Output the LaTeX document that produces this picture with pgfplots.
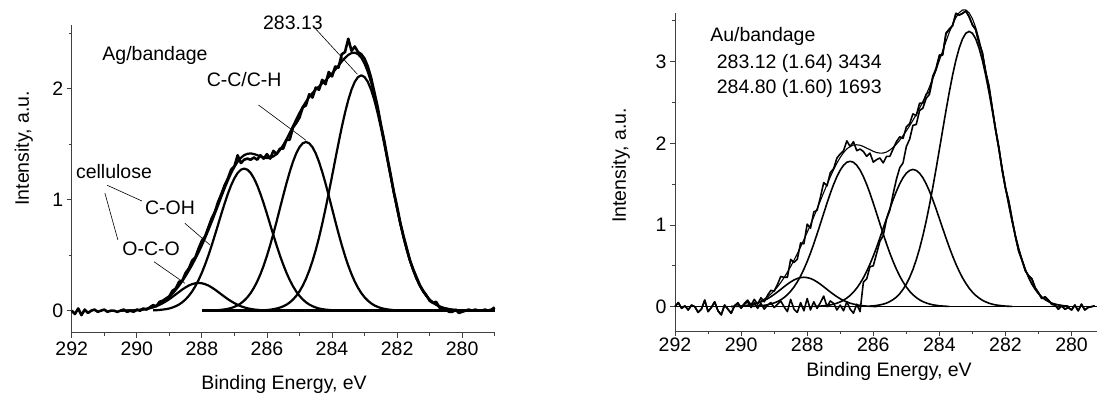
\documentclass[border=0pt]{standalone}
\usepackage{fontspec}
\setmainfont{Liberation Sans}
\usepackage{pgfplots}
\pgfplotsset{compat=1.18}
\newcommand\fs{\fontsize{19.5}{23}\selectfont}
\pgfplotsset{
  xpsaxis/.style={
    scale only axis, x dir=reverse, clip=false,
    axis lines*=left,
    axis line style={black!75, line width=0.8pt},
    tick style={black!75, line width=0.8pt},
    tick align=outside, major tick length=5pt, minor tick length=3pt,
    xtick={280,282,284,286,288,290,292},
    xticklabels={280,282,284,286,288,290,292},
    minor xtick={279,281,283,285,287,289,291},
    tick label style={font=\fs},
    label style={font=\fs},
    /pgf/number format/assume math mode=true,
    xlabel={Binding Energy, eV},
    ylabel={Intensity, a.u.},
  }
}
\begin{document}
\begin{tikzpicture}
\path[use as bounding box] (0pt,0pt) rectangle (1097pt,396pt);
% ---------------- left panel ----------------
\begin{axis}[xpsaxis,
  at={(71.7pt,63.1pt)}, anchor=south west,
  width=423pt, height=307.5pt,
  xmin=279, xmax=292, ymin=-0.2, ymax=2.57,
  ytick={0,1,2}, yticklabels={0,1,2}, minor ytick={0.5,1.5,2.5},
  xlabel style={at={(axis description cs:0.502,-0.169)}, anchor=center},
  ylabel style={at={(axis description cs:-0.113,0.60)}, anchor=center, rotate=0},
]
% O-C-O
\addplot[black, line width=2.2pt, line join=round] coordinates {
(290.3,0.001)(290.2,0.002)(290.1,0.003)(290.0,0.005)(289.9,0.008)(289.8,0.011)(289.7,0.016)(289.6,0.022)(289.5,0.030)(289.4,0.040)(289.3,0.053)(289.2,0.068)(289.1,0.085)(289.0,0.104)(288.9,0.125)(288.8,0.147)(288.7,0.169)(288.6,0.191)(288.5,0.210)(288.4,0.227)(288.3,0.239)(288.2,0.247)(288.1,0.250)(288.0,0.247)(287.9,0.239)(287.8,0.227)(287.7,0.210)(287.6,0.191)(287.5,0.169)(287.4,0.147)(287.3,0.125)(287.2,0.104)(287.1,0.085)(287.0,0.068)(286.9,0.053)(286.8,0.040)(286.7,0.030)(286.6,0.022)(286.5,0.016)(286.4,0.011)(286.3,0.008)(286.2,0.005)(286.1,0.003)(286.0,0.002)(285.9,0.001)};
% C-OH
\addplot[black, line width=2.2pt, line join=round] coordinates {
(289.5,0.003)(289.4,0.004)(289.3,0.007)(289.2,0.010)(289.1,0.014)(289.0,0.020)(288.9,0.029)(288.8,0.041)(288.7,0.056)(288.6,0.076)(288.5,0.102)(288.4,0.134)(288.3,0.173)(288.2,0.221)(288.1,0.277)(288.0,0.342)(287.9,0.416)(287.8,0.497)(287.7,0.586)(287.6,0.680)(287.5,0.776)(287.4,0.873)(287.3,0.966)(287.2,1.053)(287.1,1.130)(287.0,1.193)(286.9,1.241)(286.8,1.270)(286.7,1.280)(286.6,1.270)(286.5,1.241)(286.4,1.193)(286.3,1.130)(286.2,1.053)(286.1,0.966)(286.0,0.873)(285.9,0.776)(285.8,0.680)(285.7,0.586)(285.6,0.497)(285.5,0.416)(285.4,0.342)(285.3,0.277)(285.2,0.221)(285.1,0.173)(285.0,0.134)(284.9,0.102)(284.8,0.076)(284.7,0.056)(284.6,0.041)(284.5,0.029)(284.4,0.020)(284.3,0.014)(284.2,0.010)(284.1,0.007)(284.0,0.004)(283.9,0.003)};
% C-C/C-H
\addplot[black, line width=2.2pt, line join=round] coordinates {
(287.6,0.003)(287.5,0.005)(287.4,0.008)(287.3,0.012)(287.2,0.017)(287.1,0.024)(287.0,0.035)(286.9,0.048)(286.8,0.067)(286.7,0.091)(286.6,0.121)(286.5,0.159)(286.4,0.206)(286.3,0.262)(286.2,0.329)(286.1,0.406)(286.0,0.494)(285.9,0.591)(285.8,0.696)(285.7,0.807)(285.6,0.922)(285.5,1.036)(285.4,1.147)(285.3,1.250)(285.2,1.341)(285.1,1.417)(285.0,1.473)(284.9,1.508)(284.8,1.520)(284.7,1.508)(284.6,1.473)(284.5,1.417)(284.4,1.341)(284.3,1.250)(284.2,1.147)(284.1,1.036)(284.0,0.922)(283.9,0.807)(283.8,0.696)(283.7,0.591)(283.6,0.494)(283.5,0.406)(283.4,0.329)(283.3,0.262)(283.2,0.206)(283.1,0.159)(283.0,0.121)(282.9,0.091)(282.8,0.067)(282.7,0.048)(282.6,0.035)(282.5,0.024)(282.4,0.017)(282.3,0.012)(282.2,0.008)(282.1,0.005)(282.0,0.003)};
% 283.13
\addplot[black, line width=2.2pt, line join=round] coordinates {
(286.1,0.004)(286.0,0.006)(285.9,0.009)(285.8,0.014)(285.7,0.020)(285.6,0.028)(285.5,0.039)(285.4,0.054)(285.3,0.074)(285.2,0.100)(285.1,0.133)(285.0,0.174)(284.9,0.225)(284.8,0.287)(284.7,0.361)(284.6,0.447)(284.5,0.546)(284.4,0.658)(284.3,0.783)(284.2,0.918)(284.1,1.061)(284.0,1.210)(283.9,1.361)(283.8,1.510)(283.7,1.653)(283.6,1.783)(283.5,1.898)(283.4,1.992)(283.3,2.062)(283.2,2.105)(283.1,2.120)(283.0,2.105)(282.9,2.062)(282.8,1.992)(282.7,1.898)(282.6,1.783)(282.5,1.653)(282.4,1.510)(282.3,1.361)(282.2,1.210)(282.1,1.061)(282.0,0.918)(281.9,0.783)(281.8,0.658)(281.7,0.546)(281.6,0.447)(281.5,0.361)(281.4,0.287)(281.3,0.225)(281.2,0.174)(281.1,0.133)(281.0,0.100)(280.9,0.074)(280.8,0.054)(280.7,0.039)(280.6,0.028)(280.5,0.020)(280.4,0.014)(280.3,0.009)(280.2,0.006)(280.1,0.004)};
% envelope
\addplot[black, line width=2.2pt, line join=round] coordinates {
(290.5,0.000)(290.3,0.001)(290.1,0.003)(290.0,0.005)(289.9,0.008)(289.8,0.012)(289.7,0.017)(289.6,0.024)(289.5,0.033)(289.4,0.044)(289.3,0.060)(289.2,0.078)(289.1,0.099)(289.0,0.124)(288.9,0.154)(288.8,0.188)(288.7,0.225)(288.6,0.267)(288.5,0.312)(288.4,0.361)(288.3,0.412)(288.2,0.468)(288.1,0.527)(288.0,0.589)(287.9,0.655)(287.8,0.725)(287.7,0.798)(287.6,0.874)(287.5,0.950)(287.4,1.028)(287.3,1.103)(287.2,1.174)(287.1,1.239)(287.0,1.296)(286.9,1.342)(286.8,1.377)(286.7,1.401)(286.6,1.413)(286.5,1.417)(286.4,1.411)(286.3,1.402)(286.2,1.390)(286.1,1.379)(286.0,1.375)(285.9,1.377)(285.8,1.390)(285.7,1.413)(285.6,1.447)(285.5,1.491)(285.4,1.543)(285.3,1.601)(285.2,1.662)(285.1,1.723)(285.0,1.781)(284.9,1.835)(284.8,1.883)(284.7,1.925)(284.6,1.961)(284.5,1.992)(284.4,2.019)(284.3,2.047)(284.2,2.075)(284.1,2.104)(284.0,2.136)(283.9,2.171)(283.8,2.208)(283.7,2.245)(283.6,2.277)(283.5,2.304)(283.4,2.321)(283.3,2.324)(283.2,2.311)(283.1,2.279)(283.0,2.226)(282.9,2.153)(282.8,2.059)(282.7,1.946)(282.6,1.818)(282.5,1.677)(282.4,1.527)(282.3,1.373)(282.2,1.218)(282.1,1.066)(282.0,0.921)(281.9,0.785)(281.8,0.659)(281.7,0.546)(281.6,0.447)(281.5,0.361)(281.4,0.287)(281.3,0.225)(281.2,0.174)(281.1,0.133)(281.0,0.100)(280.9,0.074)(280.8,0.054)(280.7,0.039)(280.6,0.028)(280.5,0.020)(280.4,0.014)(280.3,0.009)(280.2,0.006)(280.1,0.004)};
% measured data
\addplot[black, line width=2.6pt, line join=round] coordinates {
(292.0,0.00)(291.9,-0.03)(291.8,0.02)(291.7,-0.04)(291.6,0.01)(291.5,-0.02)(291.4,0.00)(291.3,0.01)(291.2,-0.01)(291.1,0.00)(291.0,0.01)(290.9,-0.01)(290.8,0.00)(290.7,0.00)(290.6,-0.01)(290.5,0.00)(290.4,0.01)(290.3,-0.01)(290.2,0.00)(290.1,-0.01)(290.0,0.01)(289.9,0.00)(289.8,0.02)(289.7,0.01)(289.6,0.03)(289.5,0.05)(289.4,0.04)(289.3,0.08)(289.2,0.09)(289.1,0.11)(289.0,0.13)(288.9,0.18)(288.8,0.20)(288.7,0.26)(288.6,0.27)(288.5,0.34)(288.4,0.38)(288.3,0.45)(288.2,0.48)(288.1,0.56)(288.0,0.63)(287.9,0.67)(287.8,0.75)(287.7,0.83)(287.6,0.89)(287.5,0.98)(287.4,1.05)(287.3,1.13)(287.2,1.19)(287.1,1.27)(287.0,1.30)(286.9,1.40)(286.8,1.33)(286.7,1.36)(286.6,1.37)(286.5,1.36)(286.4,1.38)(286.3,1.36)(286.2,1.40)(286.1,1.37)(286.0,1.41)(285.9,1.37)(285.8,1.44)(285.7,1.41)(285.6,1.46)(285.5,1.46)(285.4,1.54)(285.3,1.54)(285.2,1.65)(285.1,1.69)(285.0,1.74)(284.9,1.83)(284.8,1.85)(284.7,1.95)(284.6,1.92)(284.5,2.01)(284.4,1.99)(284.3,2.08)(284.2,2.04)(284.1,2.15)(284.0,2.11)(283.9,2.20)(283.8,2.19)(283.7,2.31)(283.6,2.33)(283.5,2.45)(283.4,2.34)(283.3,2.38)(283.2,2.33)(283.1,2.31)(283.0,2.27)(282.9,2.20)(282.8,2.10)(282.7,1.97)(282.6,1.84)(282.5,1.68)(282.4,1.54)(282.3,1.38)(282.2,1.23)(282.1,1.07)(282.0,0.94)(281.9,0.79)(281.8,0.67)(281.7,0.56)(281.6,0.45)(281.5,0.37)(281.4,0.30)(281.3,0.23)(281.2,0.18)(281.1,0.14)(281.0,0.09)(280.9,0.07)(280.8,0.08)(280.7,0.03)(280.6,0.01)(280.5,0.01)(280.4,-0.01)(280.3,-0.01)(280.2,0.01)(280.1,-0.02)(280.0,-0.01)(279.9,0.00)(279.8,0.01)(279.7,0.00)(279.6,0.01)(279.5,0.00)(279.4,0.00)(279.3,0.01)(279.2,0.00)(279.1,0.01)(279.0,0.03)};
% baseline
\addplot[black, line width=3pt] coordinates {(288.0,0)(279.0,0)};
% annotations
\node[font=\fs] at (axis cs:285.2,2.595) {283.13};
\draw[black, line width=0.6pt] (axis cs:284.52,2.544) -- (axis cs:283.22,2.13);
\node[font=\fs] at (axis cs:289.44,2.30) {Ag/bandage};
\node[font=\fs] at (axis cs:286.70,2.08) {C-C/C-H};
\draw[black, line width=0.6pt] (axis cs:286.26,1.853) -- (axis cs:284.80,1.535);
\node[font=\fs] at (axis cs:290.70,1.252) {cellulose};
\node[font=\fs] at (axis cs:288.98,0.931) {C-OH};
\node[font=\fs] at (axis cs:289.56,0.562) {O-C-O};
\draw[black, line width=0.6pt] (axis cs:290.91,1.130) -- (axis cs:289.84,0.988);
\draw[black, line width=0.6pt] (axis cs:290.98,1.060) -- (axis cs:290.58,0.637);
\draw[black, line width=0.6pt] (axis cs:288.52,0.787) -- (axis cs:287.75,0.592);
\draw[black, line width=0.6pt] (axis cs:289.47,0.441) -- (axis cs:288.52,0.247);
\end{axis}
% ---------------- right panel ----------------
\begin{axis}[xpsaxis,
  at={(675pt,64.8pt)}, anchor=south west,
  width=423pt, height=318.6pt,
  xmin=279.2, xmax=292, ymin=-0.3, ymax=3.6,
  ytick={0,1,2,3}, yticklabels={0,1,2,3}, minor ytick={0.5,1.5,2.5,3.5},
  xticklabel style={yshift=2pt},
  xlabel style={at={(axis description cs:0.506,-0.127)}, anchor=center},
  ylabel style={at={(axis description cs:-0.128,0.52)}, anchor=center},
]
\addplot[black, line width=1.5pt] coordinates {(292,0)(279.2,0)};
% R1
\addplot[black, line width=1.6pt, line join=round] coordinates {
(290.3,0.002)(290.2,0.003)(290.1,0.005)(290.0,0.007)(289.9,0.011)(289.8,0.016)(289.7,0.023)(289.6,0.032)(289.5,0.043)(289.4,0.058)(289.3,0.076)(289.2,0.097)(289.1,0.122)(289.0,0.150)(288.9,0.180)(288.8,0.212)(288.7,0.244)(288.6,0.275)(288.5,0.303)(288.4,0.327)(288.3,0.345)(288.2,0.356)(288.1,0.360)(288.0,0.356)(287.9,0.345)(287.8,0.327)(287.7,0.303)(287.6,0.275)(287.5,0.244)(287.4,0.212)(287.3,0.180)(287.2,0.150)(287.1,0.122)(287.0,0.097)(286.9,0.076)(286.8,0.058)(286.7,0.043)(286.6,0.032)(286.5,0.023)(286.4,0.016)(286.3,0.011)(286.2,0.007)(286.1,0.005)(286.0,0.003)(285.9,0.002)};
% R2
\addplot[black, line width=1.6pt, line join=round] coordinates {
(289.7,0.004)(289.6,0.005)(289.5,0.008)(289.4,0.011)(289.3,0.017)(289.2,0.023)(289.1,0.033)(289.0,0.046)(288.9,0.062)(288.8,0.084)(288.7,0.112)(288.6,0.146)(288.5,0.189)(288.4,0.241)(288.3,0.303)(288.2,0.375)(288.1,0.459)(288.0,0.553)(287.9,0.657)(287.8,0.770)(287.7,0.891)(287.6,1.016)(287.5,1.143)(287.4,1.268)(287.3,1.388)(287.2,1.497)(287.1,1.593)(287.0,1.672)(286.9,1.731)(286.8,1.768)(286.7,1.780)(286.6,1.768)(286.5,1.731)(286.4,1.672)(286.3,1.593)(286.2,1.497)(286.1,1.388)(286.0,1.268)(285.9,1.143)(285.8,1.016)(285.7,0.891)(285.6,0.770)(285.5,0.657)(285.4,0.553)(285.3,0.459)(285.2,0.375)(285.1,0.303)(285.0,0.241)(284.9,0.189)(284.8,0.146)(284.7,0.112)(284.6,0.084)(284.5,0.062)(284.4,0.046)(284.3,0.033)(284.2,0.023)(284.1,0.017)(284.0,0.011)(283.9,0.008)(283.8,0.005)(283.7,0.004)};
% R3
\addplot[black, line width=1.6pt, line join=round] coordinates {
(287.8,0.003)(287.7,0.005)(287.6,0.007)(287.5,0.011)(287.4,0.016)(287.3,0.022)(287.2,0.031)(287.1,0.043)(287.0,0.059)(286.9,0.079)(286.8,0.106)(286.7,0.138)(286.6,0.178)(286.5,0.227)(286.4,0.286)(286.3,0.354)(286.2,0.433)(286.1,0.522)(286.0,0.620)(285.9,0.727)(285.8,0.841)(285.7,0.959)(285.6,1.079)(285.5,1.197)(285.4,1.310)(285.3,1.413)(285.2,1.504)(285.1,1.579)(285.0,1.634)(284.9,1.668)(284.8,1.680)(284.7,1.668)(284.6,1.634)(284.5,1.579)(284.4,1.504)(284.3,1.413)(284.2,1.310)(284.1,1.197)(284.0,1.079)(283.9,0.959)(283.8,0.841)(283.7,0.727)(283.6,0.620)(283.5,0.522)(283.4,0.433)(283.3,0.354)(283.2,0.286)(283.1,0.227)(283.0,0.178)(282.9,0.138)(282.8,0.106)(282.7,0.079)(282.6,0.059)(282.5,0.043)(282.4,0.031)(282.3,0.022)(282.2,0.016)(282.1,0.011)(282.0,0.007)(281.9,0.005)(281.8,0.003)};
% R4
\addplot[black, line width=1.6pt, line join=round] coordinates {
(286.1,0.007)(286.0,0.010)(285.9,0.015)(285.8,0.022)(285.7,0.031)(285.6,0.044)(285.5,0.063)(285.4,0.087)(285.3,0.118)(285.2,0.159)(285.1,0.212)(285.0,0.277)(284.9,0.358)(284.8,0.456)(284.7,0.573)(284.6,0.710)(284.5,0.868)(284.4,1.046)(284.3,1.244)(284.2,1.459)(284.1,1.687)(284.0,1.924)(283.9,2.164)(283.8,2.401)(283.7,2.627)(283.6,2.835)(283.5,3.017)(283.4,3.166)(283.3,3.278)(283.2,3.347)(283.1,3.370)(283.0,3.347)(282.9,3.278)(282.8,3.166)(282.7,3.017)(282.6,2.835)(282.5,2.627)(282.4,2.401)(282.3,2.164)(282.2,1.924)(282.1,1.687)(282.0,1.459)(281.9,1.244)(281.8,1.046)(281.7,0.868)(281.6,0.710)(281.5,0.573)(281.4,0.456)(281.3,0.358)(281.2,0.277)(281.1,0.212)(281.0,0.159)(280.9,0.118)(280.8,0.087)(280.7,0.063)(280.6,0.044)(280.5,0.031)(280.4,0.022)(280.3,0.015)(280.2,0.010)(280.1,0.007)};
% envelope
\addplot[black, line width=1.1pt, line join=round] coordinates {
(290.3,0.002)(290.1,0.006)(290.0,0.008)(289.9,0.013)(289.8,0.018)(289.7,0.027)(289.6,0.037)(289.5,0.051)(289.4,0.069)(289.3,0.093)(289.2,0.120)(289.1,0.155)(289.0,0.196)(288.9,0.242)(288.8,0.296)(288.7,0.356)(288.6,0.421)(288.5,0.492)(288.4,0.568)(288.3,0.648)(288.2,0.731)(288.1,0.820)(288.0,0.910)(287.9,1.004)(287.8,1.100)(287.7,1.199)(287.6,1.298)(287.5,1.398)(287.4,1.496)(287.3,1.590)(287.2,1.678)(287.1,1.758)(287.0,1.828)(286.9,1.886)(286.8,1.932)(286.7,1.961)(286.6,1.979)(286.5,1.982)(286.4,1.976)(286.3,1.961)(286.2,1.941)(286.1,1.922)(286.0,1.901)(285.9,1.887)(285.8,1.880)(285.7,1.881)(285.6,1.893)(285.5,1.917)(285.4,1.950)(285.3,1.990)(285.2,2.038)(285.1,2.094)(285.0,2.152)(284.9,2.215)(284.8,2.282)(284.7,2.353)(284.6,2.428)(284.5,2.509)(284.4,2.596)(284.3,2.690)(284.2,2.792)(284.1,2.901)(284.0,3.014)(283.9,3.131)(283.8,3.247)(283.7,3.358)(283.6,3.457)(283.5,3.539)(283.4,3.599)(283.3,3.632)(283.2,3.633)(283.1,3.597)(283.0,3.525)(282.9,3.416)(282.8,3.272)(282.7,3.096)(282.6,2.894)(282.5,2.670)(282.4,2.432)(282.3,2.186)(282.2,1.940)(282.1,1.698)(282.0,1.466)(281.9,1.249)(281.8,1.049)(281.7,0.870)(281.6,0.711)(281.5,0.573)(281.4,0.456)(281.3,0.358)(281.2,0.277)(281.1,0.212)(281.0,0.159)(280.9,0.118)(280.8,0.087)(280.7,0.063)(280.6,0.044)(280.5,0.031)(280.4,0.022)(280.3,0.015)(280.2,0.010)(280.1,0.007)};
% data (second trace)
\addplot[black, line width=1.6pt, line join=round] coordinates {
(292.0,0.00)(291.9,0.05)(291.8,-0.02)(291.7,0.01)(291.6,-0.04)(291.5,0.02)(291.4,0.00)(291.3,-0.07)(291.2,-0.03)(291.1,0.08)(291.0,-0.06)(290.9,-0.01)(290.8,0.06)(290.7,-0.05)(290.6,-0.10)(290.5,0.02)(290.4,-0.03)(290.3,-0.08)(290.2,0.01)(290.1,0.04)(290.0,-0.02)(289.9,0.03)(289.8,0.06)(289.7,-0.01)(289.6,0.05)(289.5,-0.02)(289.4,0.04)(289.3,-0.03)(289.2,0.02)(289.1,0.05)(289.0,-0.01)(288.9,0.03)(288.8,0.07)(288.7,0.00)(288.6,-0.06)(288.5,0.09)(288.4,-0.03)(288.3,-0.07)(288.2,0.05)(288.1,-0.05)(288.0,0.10)(287.9,-0.04)(287.8,0.06)(287.7,-0.02)(287.6,0.05)(287.5,0.13)(287.4,0.00)(287.3,0.07)(287.2,0.04)(287.1,-0.04)(287.0,0.02)(286.9,-0.05)(286.8,0.06)(286.7,-0.03)(286.6,-0.08)(286.5,0.03)(286.4,-0.06)(286.3,0.30)(286.2,0.34)(286.1,0.49)(286.0,0.50)(285.9,0.65)(285.8,0.80)(285.7,0.87)(285.6,1.07)(285.5,1.18)(285.4,1.38)(285.3,1.56)(285.2,1.70)(285.1,1.76)(285.0,1.96)(284.9,2.05)(284.8,2.22)(284.7,2.23)(284.6,2.40)(284.5,2.43)(284.4,2.55)(284.3,2.60)(284.2,2.80)(284.1,2.90)(284.0,3.07)(283.9,3.08)(283.8,3.34)(283.7,3.39)(283.6,3.44)(283.5,3.59)(283.4,3.57)(283.3,3.59)(283.2,3.62)(283.1,3.55)(283.0,3.45)(282.9,3.39)(282.8,3.23)(282.7,3.11)(282.6,2.87)(282.5,2.70)(282.4,2.43)(282.3,2.17)(282.2,1.95)(282.1,1.67)(282.0,1.45)(281.9,1.29)(281.8,1.07)(281.7,0.86)(281.6,0.68)(281.5,0.57)(281.4,0.44)(281.3,0.38)(281.2,0.34)(281.1,0.23)(281.0,0.17)(280.9,0.10)(280.8,0.12)(280.7,0.08)(280.6,0.03)(280.5,0.02)(280.4,-0.03)(280.3,0.01)(280.2,-0.03)(280.1,-0.01)(280.0,-0.04)(279.9,0.02)(279.8,-0.05)(279.7,0.03)(279.6,-0.04)(279.5,-0.01)(279.4,0.00)(279.3,0.01)};
% data (full trace)
\addplot[black, line width=1.6pt, line join=round] coordinates {
(292.0,0.00)(291.9,0.05)(291.8,-0.02)(291.7,0.01)(291.6,-0.04)(291.5,0.02)(291.4,0.00)(291.3,-0.07)(291.2,-0.03)(291.1,0.08)(291.0,-0.06)(290.9,-0.01)(290.8,0.06)(290.7,-0.05)(290.6,-0.10)(290.5,0.02)(290.4,-0.03)(290.3,-0.08)(290.2,0.01)(290.1,0.05)(290.0,-0.01)(289.9,0.04)(289.8,0.08)(289.7,0.02)(289.6,0.09)(289.5,0.03)(289.4,0.11)(289.3,0.06)(289.2,0.14)(289.1,0.20)(289.0,0.19)(288.9,0.27)(288.8,0.37)(288.7,0.36)(288.6,0.36)(288.5,0.58)(288.4,0.54)(288.3,0.58)(288.2,0.78)(288.1,0.77)(288.0,1.01)(287.9,0.96)(287.8,1.16)(287.7,1.18)(287.6,1.34)(287.5,1.52)(287.4,1.48)(287.3,1.64)(287.2,1.69)(287.1,1.82)(287.0,1.87)(286.9,1.91)(286.8,2.03)(286.7,1.96)(286.6,2.02)(286.5,1.91)(286.4,1.93)(286.3,1.90)(286.2,1.84)(286.1,1.88)(286.0,1.77)(285.9,1.80)(285.8,1.82)(285.7,1.76)(285.6,1.84)(285.5,1.84)(285.4,1.93)(285.3,2.02)(285.2,2.08)(285.1,2.06)(285.0,2.20)(284.9,2.24)(284.8,2.36)(284.7,2.34)(284.6,2.49)(284.5,2.49)(284.4,2.60)(284.3,2.63)(284.2,2.82)(284.1,2.92)(284.0,3.08)(283.9,3.09)(283.8,3.35)(283.7,3.40)(283.6,3.44)(283.5,3.59)(283.4,3.57)(283.3,3.59)(283.2,3.62)(283.1,3.55)(283.0,3.45)(282.9,3.39)(282.8,3.23)(282.7,3.11)(282.6,2.87)(282.5,2.70)(282.4,2.43)(282.3,2.17)(282.2,1.95)(282.1,1.67)(282.0,1.45)(281.9,1.29)(281.8,1.07)(281.7,0.86)(281.6,0.68)(281.5,0.57)(281.4,0.44)(281.3,0.38)(281.2,0.34)(281.1,0.23)(281.0,0.17)(280.9,0.10)(280.8,0.12)(280.7,0.08)(280.6,0.03)(280.5,0.02)(280.4,-0.03)(280.3,0.01)(280.2,-0.03)(280.1,-0.01)(280.0,-0.04)(279.9,0.02)(279.8,-0.05)(279.7,0.03)(279.6,-0.04)(279.5,-0.01)(279.4,0.00)(279.3,0.01)};
\node[font=\fs, anchor=west] at (axis cs:291.04,3.305) {Au/bandage};
\node[font=\fs, anchor=west] at (axis cs:290.84,2.979) {283.12 (1.64) 3434};
\node[font=\fs, anchor=west] at (axis cs:290.84,2.673) {284.80 (1.60) 1693};
\end{axis}
\end{tikzpicture}
\end{document}
